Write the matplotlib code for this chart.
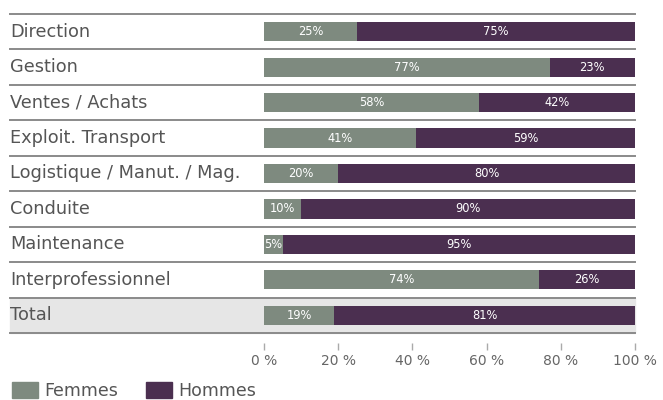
import matplotlib
matplotlib.use('Agg')
import matplotlib.pyplot as plt
import matplotlib.patches as mpatches

categories = ['Direction', 'Gestion', 'Ventes / Achats', 'Exploit. Transport',
              'Logistique / Manut. / Mag.', 'Conduite', 'Maintenance',
              'Interprofessionnel', 'Total']
femmes = [25, 77, 58, 41, 20, 10, 5, 74, 19]
hommes = [75, 23, 42, 59, 80, 90, 95, 26, 81]
xticks = [0, 20, 40, 60, 80, 100]

green = '#7e8a7f'
purple = '#4b2f50'
text_col = '#555555'
line_col = '#8a8a8a'

fig = plt.figure(figsize=(6.63, 4.0), dpi=100)
W, H = 663, 400
ax = fig.add_axes([264 / W, 1 - 333 / H, (635 - 264) / W, (333 - 14) / H])

n = len(categories)
ypos = [i + 0.5 for i in range(n)]
xleft = (10 - 264) / (635 - 264)  # axes coords of the row labels

# grey background for the Total row
ax.axhspan(n - 1, n, xmin=xleft, xmax=1, color='#e6e6e6', clip_on=False, zorder=0)

ax.barh(ypos, femmes, height=0.54, color=green, zorder=2)
ax.barh(ypos, hommes, left=femmes, height=0.54, color=purple, zorder=2)

lab_font = dict(family='DejaVu Sans', stretch='condensed', fontsize=9.2,
                color='white', ha='center', va='center', zorder=3)
for y, f, h in zip(ypos, femmes, hommes):
    ax.text(max(f / 2, 2.6), y, '%d%%' % f, **lab_font)
    ax.text(f + h / 2, y, '%d%%' % h, **lab_font)

# separators between rows
ytr = ax.get_yaxis_transform()
for k in range(n + 1):
    ax.plot([xleft, 1], [k, k], color=line_col, lw=1.4, transform=ytr,
            clip_on=False, zorder=1)

for y, c in zip(ypos, categories):
    ax.text(xleft, y, c, transform=ytr, fontsize=12.8, color=text_col,
            ha='left', va='center')

ax.set_xlim(0, 100)
ax.set_ylim(n, 0)
ax.set_yticks([])
ax.set_xticks(xticks)
ax.set_xticklabels(['%d %%' % t for t in xticks], fontsize=12.5)
ax.tick_params(axis='x', length=5, width=1, color='#aaaaaa', pad=3,
               labelcolor='#666666')
for s in ['top', 'left', 'right']:
    ax.spines[s].set_visible(False)
ax.spines['bottom'].set_position(('outward', 7))
ax.spines['bottom'].set_visible(False)

h1 = mpatches.Patch(color=green, label='Femmes')
h2 = mpatches.Patch(color=purple, label='Hommes')
fig.legend(handles=[h1, h2], loc='lower left', bbox_to_anchor=(0.0, -0.03),
           ncol=2, frameon=False, fontsize=12.5, labelcolor=text_col,
           handlelength=1.5, handleheight=1.0, handletextpad=0.35,
           columnspacing=1.6, borderaxespad=0.3)

fig.savefig('out.png', dpi=100)
